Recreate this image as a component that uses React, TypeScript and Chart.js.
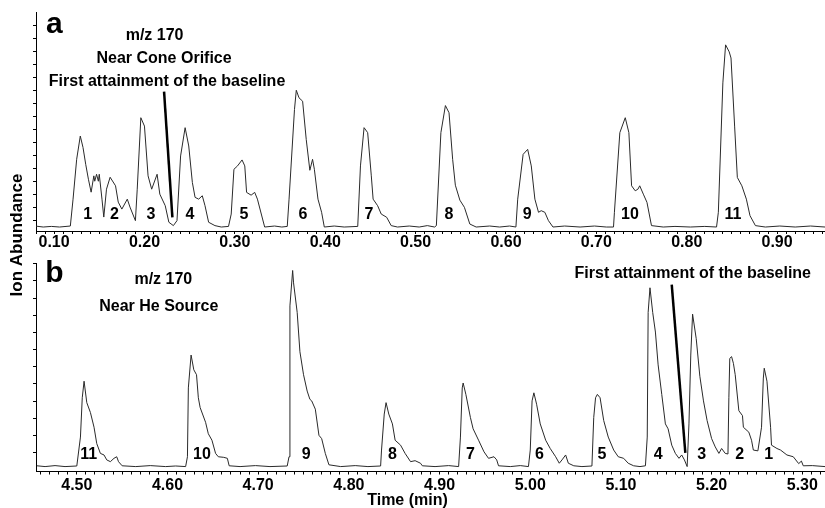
import React, { useEffect, useRef } from 'react';
import { Chart, registerables } from 'chart.js';

Chart.register(...registerables);

// ---------------- DATA ----------------
// Panel a: m/z 170, near cone orifice (time in min, abundance in arbitrary units)
const timeA = [
  0.079, 0.088, 0.097, 0.106, 0.118, 0.121, 0.125, 0.129, 0.132, 0.135,
  0.138, 0.141, 0.144, 0.145, 0.147, 0.149, 0.150, 0.153, 0.155, 0.158,
  0.162, 0.168, 0.171, 0.175, 0.181, 0.184, 0.190, 0.192, 0.196, 0.200,
  0.204, 0.208, 0.214, 0.217, 0.223, 0.227, 0.232, 0.236, 0.240, 0.245,
  0.249, 0.253, 0.256, 0.260, 0.264, 0.267, 0.271, 0.278, 0.285, 0.293,
  0.296, 0.299, 0.303, 0.308, 0.311, 0.313, 0.318, 0.322, 0.325, 0.333,
  0.344, 0.352, 0.358, 0.360, 0.366, 0.368, 0.371, 0.375, 0.379, 0.383,
  0.386, 0.388, 0.392, 0.396, 0.399, 0.410, 0.421, 0.436, 0.439, 0.443,
  0.447, 0.451, 0.453, 0.458, 0.462, 0.468, 0.473, 0.480, 0.493, 0.504,
  0.513, 0.521, 0.523, 0.528, 0.533, 0.537, 0.541, 0.544, 0.549, 0.554,
  0.560, 0.567, 0.582, 0.593, 0.604, 0.611, 0.613, 0.619, 0.624, 0.628,
  0.632, 0.636, 0.639, 0.643, 0.647, 0.652, 0.665, 0.682, 0.698, 0.711,
  0.719, 0.720, 0.726, 0.732, 0.736, 0.739, 0.743, 0.746, 0.748, 0.752,
  0.756, 0.761, 0.774, 0.787, 0.804, 0.820, 0.833, 0.835, 0.840, 0.843,
  0.847, 0.849, 0.853, 0.856, 0.861, 0.866, 0.870, 0.876, 0.887, 0.903,
  0.920, 0.937, 0.953,
];
const abundA = [
  0.5, 0, 0.3, 0, 0.5, 14, 34, 45.7, 40, 31.5,
  24, 17.5, 25.7, 23, 26.5, 23, 26.5, 14, 5, 19,
  25, 20.7, 12.5, 9, 14, 10, 3.2, 19, 54.9, 50.7,
  25.7, 19, 26.5, 16.5, 10.7, 2.4, 0.7, 3.2, 35.7, 49.9,
  40.7, 22.4, 14.9, 14, 15.7, 10.7, 2.4, 0.7, 0, 0.3,
  6.5, 29, 30.7, 33.7, 30.7, 17.4, 16, 17.4, 14, 0,
  0.5, 0, 0.3, 14, 59, 68.7, 64.9, 63.2, 44, 28.5,
  34, 29, 14, 7.4, 0, 0.5, 0, 0.3, 30.7, 49.9,
  47.4, 25.7, 14, 10.7, 6.5, 4.9, 0.7, 0, 0.5, 0,
  0.7, 0, 0.7, 47.4, 61, 57.4, 34, 21, 13.5, 9.9,
  1.5, 0, 0.5, 0, 0.5, 0, 14, 36.5, 39, 30.7,
  14, 7.4, 8.2, 7.4, 3.2, 0, 0.5, 0, 0.5, 0,
  0, 7.4, 47.4, 54.9, 47.4, 20.7, 18.2, 19, 20.7, 16.5,
  12.4, 0.7, 0, 0.3, 0, 0.3, 0, 7.4, 72.4, 91.5,
  88, 84.9, 50.7, 24.9, 20.7, 14, 5.7, 0.7, 0, 0.5,
  0, 0.5, 0,
];

// Panel b: m/z 170, near He source
const timeB = [
  4.456, 4.465, 4.476, 4.487, 4.500, 4.504, 4.506, 4.508, 4.511, 4.515,
  4.519, 4.522, 4.526, 4.530, 4.533, 4.537, 4.541, 4.544, 4.546, 4.550,
  4.565, 4.581, 4.598, 4.609, 4.620, 4.622, 4.623, 4.626, 4.629, 4.632,
  4.634, 4.636, 4.642, 4.645, 4.649, 4.653, 4.656, 4.662, 4.666, 4.668,
  4.680, 4.697, 4.713, 4.732, 4.734, 4.735, 4.738, 4.739, 4.743, 4.746,
  4.750, 4.754, 4.757, 4.759, 4.763, 4.767, 4.770, 4.774, 4.778, 4.791,
  4.807, 4.821, 4.835, 4.836, 4.839, 4.841, 4.844, 4.848, 4.851, 4.857,
  4.862, 4.868, 4.873, 4.879, 4.881, 4.895, 4.910, 4.921, 4.923, 4.925,
  4.926, 4.929, 4.934, 4.937, 4.943, 4.949, 4.954, 4.960, 4.963, 4.965,
  4.978, 4.989, 4.998, 5.000, 5.002, 5.004, 5.007, 5.011, 5.017, 5.022,
  5.028, 5.032, 5.035, 5.039, 5.042, 5.048, 5.057, 5.068, 5.070, 5.072,
  5.074, 5.077, 5.081, 5.086, 5.092, 5.097, 5.103, 5.108, 5.114, 5.121,
  5.127, 5.129, 5.130, 5.132, 5.135, 5.138, 5.141, 5.145, 5.149, 5.152,
  5.156, 5.160, 5.164, 5.167, 5.170, 5.173, 5.175, 5.177, 5.179, 5.183,
  5.187, 5.191, 5.195, 5.200, 5.204, 5.208, 5.211, 5.215, 5.218, 5.219,
  5.220, 5.222, 5.224, 5.226, 5.230, 5.234, 5.235, 5.241, 5.244, 5.246,
  5.251, 5.255, 5.257, 5.258, 5.261, 5.265, 5.266, 5.272, 5.276, 5.283,
  5.290, 5.296, 5.299, 5.301, 5.311, 5.325,
];
const abundB = [
  0.4, 0, 0.5, 0, 0.3, 15, 35, 43.4, 32.5, 27.5,
  20, 11.7, 6.7, 5.9, 3.4, 2.5, 4.2, 5, 2.5, 0.4,
  0, 0.5, 0, 0.3, 0, 5, 40, 56.7, 49.2, 46.7,
  35, 30, 22.5, 16.7, 13.4, 6.7, 5, 4.7, 4.2, 0.4,
  0, 0.5, 0, 0.3, 5, 81.7, 99.7, 93.4, 78.4, 58.4,
  46.7, 38.4, 34.2, 33.4, 29.2, 15.9, 14.2, 6.7, 0.9, 0,
  0.5, 0, 0.3, 8.4, 26.7, 32.5, 26.7, 21.7, 13.4, 10.9,
  6.7, 2.5, 3, 1.7, 0.4, 0, 0.5, 0, 15, 40,
  42.5, 36.7, 25, 19.2, 13.4, 7.5, 4.2, 5, 3.4, 0.4,
  0, 0.5, 0, 8.4, 33.4, 37.5, 31.7, 21.7, 13.4, 9.2,
  5, 1.7, 3.4, 5.9, 1.7, 0.4, 0, 0.3, 25, 35,
  36.7, 35, 23.4, 15, 8.4, 5, 4.2, 1.7, 0.4, 0,
  0.4, 15, 78.4, 90.9, 78.4, 68.4, 51.7, 36.7, 21.7, 19.2,
  10.9, 6.7, 4.2, 5.9, 3.4, 0, 21.7, 56.7, 77.5, 65,
  45.9, 33.4, 23.4, 14.2, 10, 6.7, 9.2, 6.7, 6.4, 35,
  55, 55.9, 52.5, 46.7, 28.4, 25.9, 20, 17.5, 13.4, 8.4,
  8, 20, 45, 50, 43.4, 20, 10.9, 9.2, 8.4, 5.9,
  5, 1.5, 2.8, 0.4, 0.5, 0,
];

// Peak numbers and their retention times
const peakNamesA = ['1', '2', '3', '4', '5', '6', '7', '8', '9', '10', '11'];
const peakTimesA = [0.1373, 0.1667, 0.2073, 0.2504, 0.3102, 0.3754, 0.4485, 0.5369, 0.6236, 0.7372, 0.8511];
const peakNamesB = ['11', '10', '9', '8', '7', '6', '5', '4', '3', '2', '1'];
const peakTimesB = [4.513, 4.638, 4.753, 4.848, 4.934, 5.010, 5.079, 5.141, 5.189, 5.231, 5.263];

// Axis ranges
const xRangeA = [0.080, 0.953];
const xRangeB = [4.455, 5.325];
const yRangeA = [-2, 108];
const yRangeB = [-2.5, 103.5];

// ---------------- HELPERS ----------------
const FONT = '"Liberation Sans", Arial, Helvetica, sans-serif';

function minorTicks(min: number, max: number) {
  const out: { value: number }[] = [];
  const a = Math.ceil(min * 100 - 1e-9);
  const b = Math.floor(max * 100 + 1e-9);
  for (let k = a; k <= b; k++) out.push({ value: k / 100 });
  return out;
}
function offsetTicks(start: number, step: number, count: number) {
  const out: { value: number }[] = [];
  for (let k = 0; k < count; k++) out.push({ value: start + step * k });
  return out;
}
function majorLabel(v: number) {
  const r = Math.round(v * 10);
  return Math.abs(v * 10 - r) < 1e-6 ? (r / 10).toFixed(2) : '';
}

type Note = { text: string; t: number; v: number; size: number; align: CanvasTextAlign; base: CanvasTextBaseline };

function annotPlugin(cfg: {
  names: string[];
  times: number[];
  level: number;
  notes: Note[];
  line: [number, number, number, number];
  fixed: (ctx: CanvasRenderingContext2D) => void;
}) {
  return {
    id: 'annot',
    afterDatasetsDraw(chart: any) {
      const { ctx } = chart;
      const xs = chart.scales.x;
      const ys = chart.scales.y;
      ctx.save();
      ctx.fillStyle = '#000';
      ctx.strokeStyle = '#000';
      ctx.font = `bold 16px ${FONT}`;
      ctx.textAlign = 'center';
      ctx.textBaseline = 'middle';
      cfg.names.forEach((n, i) => {
        ctx.fillText(n, xs.getPixelForValue(cfg.times[i]), ys.getPixelForValue(cfg.level));
      });
      cfg.notes.forEach((n) => {
        ctx.font = `bold ${n.size}px ${FONT}`;
        ctx.textAlign = n.align;
        ctx.textBaseline = n.base;
        ctx.fillText(n.text, xs.getPixelForValue(n.t), ys.getPixelForValue(n.v));
      });
      const [t0, v0, t1, v1] = cfg.line;
      ctx.lineWidth = 2.5;
      ctx.beginPath();
      ctx.moveTo(xs.getPixelForValue(t0), ys.getPixelForValue(v0));
      ctx.lineTo(xs.getPixelForValue(t1), ys.getPixelForValue(v1));
      ctx.stroke();
      cfg.fixed(ctx);
      ctx.restore();
    },
  };
}

function makeConfig(p: {
  times: number[];
  values: number[];
  xr: number[];
  yr: number[];
  yt: [number, number, number];
  padding: any;
  labelPad: number;
  plugin: any;
}) {
  return {
    type: 'line' as const,
    data: {
      datasets: [
        {
          data: p.times.map((t, i) => ({ x: t, y: p.values[i] })),
          borderColor: '#2a2a2a',
          borderWidth: 1,
          pointRadius: 0,
          tension: 0,
          fill: false,
        },
      ],
    },
    options: {
      responsive: false,
      animation: false as const,
      events: [],
      layout: { padding: p.padding },
      plugins: { legend: { display: false }, tooltip: { enabled: false }, title: { display: false } },
      scales: {
        x: {
          type: 'linear' as const,
          bounds: 'data' as const,
          min: p.xr[0],
          max: p.xr[1],
          afterBuildTicks: (s: any) => {
            s.ticks = minorTicks(p.xr[0], p.xr[1]);
          },
          ticks: {
            autoSkip: false,
            maxRotation: 0,
            minRotation: 0,
            padding: p.labelPad,
            color: '#000',
            font: { family: FONT, size: 16, weight: 'bold' as const, lineHeight: 1 },
            callback: (v: any) => majorLabel(Number(v)),
          },
          grid: { drawOnChartArea: false, drawTicks: true, tickLength: 3, color: '#000', tickColor: '#000', tickWidth: 1 },
          border: { display: true, color: '#000', width: 1 },
        },
        y: {
          type: 'linear' as const,
          bounds: 'data' as const,
          min: p.yr[0],
          max: p.yr[1],
          afterBuildTicks: (s: any) => {
            s.ticks = offsetTicks(p.yt[0], p.yt[1], p.yt[2]);
          },
          ticks: { display: false },
          grid: { drawOnChartArea: false, drawTicks: true, tickLength: 3, color: '#000', tickColor: '#000', tickWidth: 1 },
          border: { display: true, color: '#000', width: 1 },
        },
      },
    },
    plugins: [p.plugin],
  };
}

export default function App() {
  const refA = useRef<HTMLCanvasElement>(null);
  const refB = useRef<HTMLCanvasElement>(null);

  useEffect(() => {
    const pluginA = annotPlugin({
      names: peakNamesA,
      times: peakTimesA,
      level: 6,
      notes: [
        { text: 'a', t: 0.0912, v: 97.5, size: 30, align: 'left', base: 'alphabetic' },
        { text: 'm/z 170', t: 0.2112, v: 96, size: 16, align: 'center', base: 'middle' },
        { text: 'Near Cone Orifice', t: 0.2217, v: 84.75, size: 16, align: 'center', base: 'middle' },
        { text: 'First attainment of the baseline', t: 0.225, v: 73, size: 16, align: 'center', base: 'middle' },
      ],
      line: [0.2217, 68, 0.2309, 4.85],
      fixed: (ctx) => {
        ctx.save();
        ctx.translate(17.5, 235);
        ctx.rotate(-Math.PI / 2);
        ctx.font = `bold 17px ${FONT}`;
        ctx.textAlign = 'center';
        ctx.textBaseline = 'middle';
        ctx.fillText('Ion Abundance', 0, 0);
        ctx.restore();
      },
    });
    const pluginB = annotPlugin({
      names: peakNamesB,
      times: peakTimesB,
      level: 6,
      notes: [
        { text: 'b', t: 4.4653, v: 94, size: 30, align: 'left', base: 'alphabetic' },
        { text: 'm/z 170', t: 4.5954, v: 95, size: 16, align: 'center', base: 'middle' },
        { text: 'Near He Source', t: 4.5904, v: 81.25, size: 16, align: 'center', base: 'middle' },
        { text: 'First attainment of the baseline', t: 5.1792, v: 98, size: 16, align: 'center', base: 'middle' },
      ],
      line: [5.156, 92.5, 5.171, 7],
      fixed: (ctx) => {
        ctx.font = `bold 16px ${FONT}`;
        ctx.textAlign = 'center';
        ctx.textBaseline = 'middle';
        ctx.fillText('Time (min)', 407.5, 500.5);
      },
    });

    const chartA = new Chart(
      refA.current as HTMLCanvasElement,
      makeConfig({
        times: timeA,
        values: abundA,
        xr: xRangeA,
        yr: yRangeA,
        yt: [3.5, 6.53, 16],
        padding: { left: 33, top: 12, right: 0, bottom: 256 },
        labelPad: 1,
        plugin: pluginA,
      }) as any
    );
    const chartB = new Chart(
      refB.current as HTMLCanvasElement,
      makeConfig({
        times: timeB,
        values: abundB,
        xr: xRangeB,
        yr: yRangeB,
        yt: [7.15, 8.725, 12],
        padding: { left: 33, top: 263, right: 0, bottom: 10.5 },
        labelPad: 3.5,
        plugin: pluginB,
      }) as any
    );
    return () => {
      chartA.destroy();
      chartB.destroy();
    };
  }, []);

  const canvasStyle: React.CSSProperties = { position: 'absolute', left: 0, top: 0, width: 825, height: 508, display: 'block' };
  return (
    <div style={{ position: 'absolute', left: 0, top: 0, width: 825, height: 508, background: '#fff', overflow: 'hidden' }}>
      <canvas ref={refA} width={825} height={508} style={canvasStyle} />
      <canvas ref={refB} width={825} height={508} style={canvasStyle} />
    </div>
  );
}
